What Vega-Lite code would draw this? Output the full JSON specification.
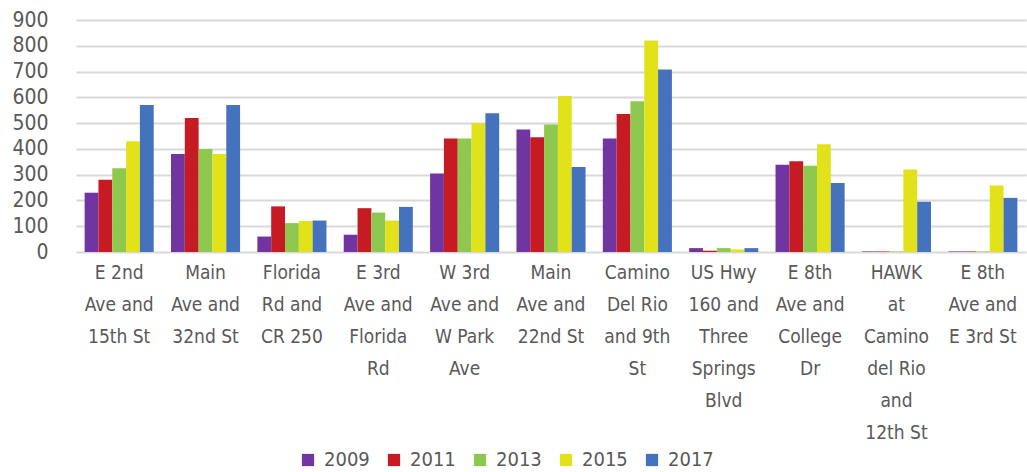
{
  "$schema": "https://vega.github.io/schema/vega-lite/v6.json",
  "autosize": {"type": "none"},
  "width": 950,
  "height": 232,
  "padding": {"left": 76, "top": 20, "right": 1, "bottom": 220},
  "background": "white",
  "config": {
    "view": {"stroke": null},
    "font": "'Liberation Sans Narrow', 'DejaVu Sans Condensed', sans-serif"
  },
  "data": {
    "values": [
      {"site": "E 2nd|Ave and|15th St", "year": "2009", "value": 230},
      {"site": "E 2nd|Ave and|15th St", "year": "2011", "value": 280},
      {"site": "E 2nd|Ave and|15th St", "year": "2013", "value": 325},
      {"site": "E 2nd|Ave and|15th St", "year": "2015", "value": 430},
      {"site": "E 2nd|Ave and|15th St", "year": "2017", "value": 570},
      {"site": "Main|Ave and|32nd St", "year": "2009", "value": 380},
      {"site": "Main|Ave and|32nd St", "year": "2011", "value": 520},
      {"site": "Main|Ave and|32nd St", "year": "2013", "value": 400},
      {"site": "Main|Ave and|32nd St", "year": "2015", "value": 380},
      {"site": "Main|Ave and|32nd St", "year": "2017", "value": 570},
      {"site": "Florida|Rd and|CR 250", "year": "2009", "value": 60},
      {"site": "Florida|Rd and|CR 250", "year": "2011", "value": 177},
      {"site": "Florida|Rd and|CR 250", "year": "2013", "value": 112},
      {"site": "Florida|Rd and|CR 250", "year": "2015", "value": 120},
      {"site": "Florida|Rd and|CR 250", "year": "2017", "value": 122},
      {"site": "E 3rd|Ave and|Florida|Rd", "year": "2009", "value": 67},
      {"site": "E 3rd|Ave and|Florida|Rd", "year": "2011", "value": 170},
      {"site": "E 3rd|Ave and|Florida|Rd", "year": "2013", "value": 153},
      {"site": "E 3rd|Ave and|Florida|Rd", "year": "2015", "value": 122},
      {"site": "E 3rd|Ave and|Florida|Rd", "year": "2017", "value": 175},
      {"site": "W 3rd|Ave and|W Park|Ave", "year": "2009", "value": 305},
      {"site": "W 3rd|Ave and|W Park|Ave", "year": "2011", "value": 440},
      {"site": "W 3rd|Ave and|W Park|Ave", "year": "2013", "value": 440},
      {"site": "W 3rd|Ave and|W Park|Ave", "year": "2015", "value": 500},
      {"site": "W 3rd|Ave and|W Park|Ave", "year": "2017", "value": 538},
      {"site": "Main|Ave and|22nd St", "year": "2009", "value": 475},
      {"site": "Main|Ave and|22nd St", "year": "2011", "value": 445},
      {"site": "Main|Ave and|22nd St", "year": "2013", "value": 495},
      {"site": "Main|Ave and|22nd St", "year": "2015", "value": 605},
      {"site": "Main|Ave and|22nd St", "year": "2017", "value": 330},
      {"site": "Camino|Del Rio|and 9th|St", "year": "2009", "value": 440},
      {"site": "Camino|Del Rio|and 9th|St", "year": "2011", "value": 535},
      {"site": "Camino|Del Rio|and 9th|St", "year": "2013", "value": 585},
      {"site": "Camino|Del Rio|and 9th|St", "year": "2015", "value": 820},
      {"site": "Camino|Del Rio|and 9th|St", "year": "2017", "value": 708},
      {"site": "US Hwy|160 and|Three|Springs|Blvd", "year": "2009", "value": 15},
      {"site": "US Hwy|160 and|Three|Springs|Blvd", "year": "2011", "value": 5},
      {"site": "US Hwy|160 and|Three|Springs|Blvd", "year": "2013", "value": 15},
      {"site": "US Hwy|160 and|Three|Springs|Blvd", "year": "2015", "value": 10},
      {"site": "US Hwy|160 and|Three|Springs|Blvd", "year": "2017", "value": 15},
      {"site": "E 8th|Ave and|College|Dr", "year": "2009", "value": 338},
      {"site": "E 8th|Ave and|College|Dr", "year": "2011", "value": 352},
      {"site": "E 8th|Ave and|College|Dr", "year": "2013", "value": 335},
      {"site": "E 8th|Ave and|College|Dr", "year": "2015", "value": 418},
      {"site": "E 8th|Ave and|College|Dr", "year": "2017", "value": 268},
      {"site": "HAWK|at|Camino|del Rio|and|12th St", "year": "2009", "value": 2},
      {"site": "HAWK|at|Camino|del Rio|and|12th St", "year": "2011", "value": 2},
      {"site": "HAWK|at|Camino|del Rio|and|12th St", "year": "2013", "value": 2},
      {"site": "HAWK|at|Camino|del Rio|and|12th St", "year": "2015", "value": 320},
      {"site": "HAWK|at|Camino|del Rio|and|12th St", "year": "2017", "value": 195},
      {"site": "E 8th|Ave and|E 3rd St", "year": "2009", "value": 2},
      {"site": "E 8th|Ave and|E 3rd St", "year": "2011", "value": 2},
      {"site": "E 8th|Ave and|E 3rd St", "year": "2013", "value": 2},
      {"site": "E 8th|Ave and|E 3rd St", "year": "2015", "value": 258},
      {"site": "E 8th|Ave and|E 3rd St", "year": "2017", "value": 210}
    ]
  },
  "mark": {"type": "bar"},
  "encoding": {
    "x": {
      "field": "site",
      "type": "nominal",
      "sort": null,
      "scale": {"paddingInner": 0.2, "paddingOuter": 0.1},
      "axis": {
        "title": null,
        "labelExpr": "split(datum.label, '|')",
        "labelAngle": 0,
        "labelFontSize": 19,
        "labelLineHeight": 32,
        "labelColor": "#595959",
        "labelPadding": 20,
        "labelBaseline": "middle",
        "labelLimit": 200,
        "domain": false,
        "ticks": false,
        "grid": false
      }
    },
    "xOffset": {"field": "year", "type": "nominal"},
    "y": {
      "field": "value",
      "type": "quantitative",
      "scale": {"domain": [0, 900]},
      "axis": {
        "title": null,
        "values": [0, 100, 200, 300, 400, 500, 600, 700, 800, 900],
        "labelFontSize": 21,
        "labelColor": "#595959",
        "labelPadding": 28,
        "domain": false,
        "ticks": false,
        "gridColor": "#d9d9d9",
        "gridWidth": 2
      }
    },
    "color": {
      "field": "year",
      "type": "nominal",
      "scale": {
        "domain": ["2009", "2011", "2013", "2015", "2017"],
        "range": ["#7035A0", "#C71B23", "#8FC84E", "#E2E21A", "#4572BD"]
      },
      "legend": {
        "title": null,
        "orient": "none",
        "legendX": 222,
        "legendY": 430,
        "direction": "horizontal",
        "symbolType": "square",
        "symbolSize": 150,
        "symbolStrokeWidth": 0,
        "labelFontSize": 20,
        "labelColor": "#595959",
        "columnPadding": 14,
        "labelOffset": 6
      }
    }
  }
}
